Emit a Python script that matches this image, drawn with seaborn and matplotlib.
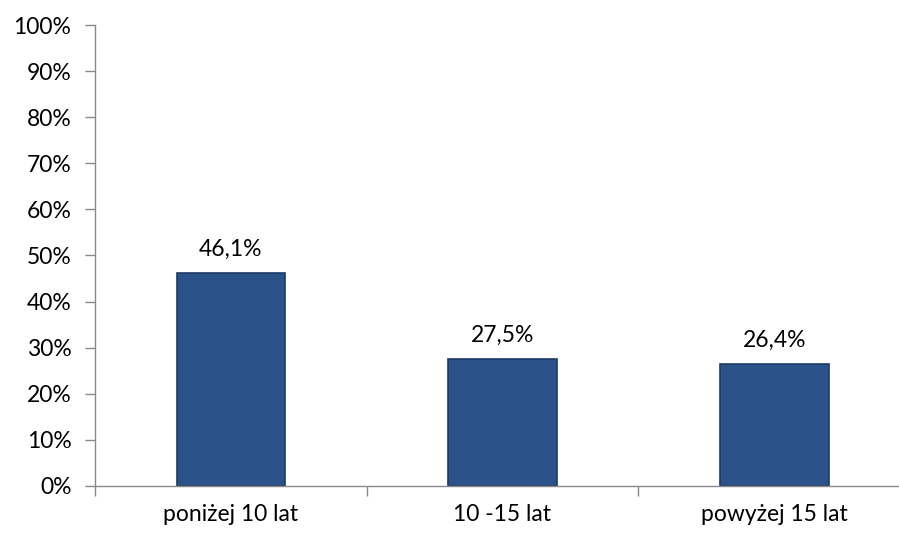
import matplotlib
matplotlib.use('Agg')
import matplotlib.pyplot as plt
import seaborn as sns
import pandas as pd
from matplotlib.ticker import FixedLocator, FuncFormatter

# data
categories = ['poniżej 10 lat', '10 -15 lat', 'powyżej 15 lat']
values = [46.1, 27.5, 26.4]
value_labels = ['46,1%', '27,5%', '26,4%']
y_ticks = list(range(0, 101, 10))

df = pd.DataFrame({'kategoria': categories, 'procent': values})

sns.set_style('white')
plt.rcParams['font.family'] = ['Lato', 'DejaVu Sans']

fig = plt.figure(figsize=(8.99, 5.39), dpi=100)
# axes: left x=95, bottom y=486, top y=25, right ~910 px (clipped)
ax = fig.add_axes([95 / 899, (539 - 486) / 539, 815 / 899, 461 / 539])

sns.barplot(data=df, x='kategoria', y='procent', ax=ax, color='#2B5289',
            width=0.4, edgecolor='#1D3C66', linewidth=1.2, saturation=1)

ax.set_ylim(0, 100)
ax.set_xlim(-0.5, 2.5)
ax.yaxis.set_major_locator(FixedLocator(y_ticks))
ax.yaxis.set_major_formatter(FuncFormatter(lambda v, p: f'{int(v)}%'))
ax.tick_params(axis='y', length=7, width=1, color='#898989', labelsize=16.5,
               pad=10, left=True, labelcolor='black')

ax.set_xticks([0, 1, 2])
ax.set_xticklabels(categories, fontsize=16.5, color='black')
ax.tick_params(axis='x', length=0, pad=13)
# category boundary ticks
ax.set_xticks([-0.5, 0.5, 1.5, 2.5], minor=True)
ax.tick_params(axis='x', which='minor', length=7, width=1, color='#898989', bottom=True)

ax.set_xlabel('')
ax.set_ylabel('')
for s in ['top', 'right']:
    ax.spines[s].set_visible(False)
for s in ['left', 'bottom']:
    ax.spines[s].set_color('#898989')
    ax.spines[s].set_linewidth(1)

for i, (v, lab) in enumerate(zip(values, value_labels)):
    ax.text(i, v + 3.0, lab, ha='center', va='bottom', fontsize=16.5, color='black')

fig.savefig('out.png', dpi=100)
